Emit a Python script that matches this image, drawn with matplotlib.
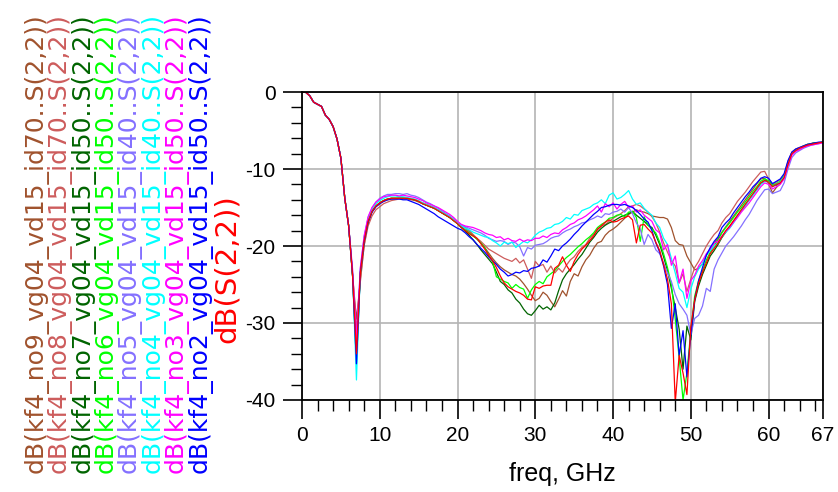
import matplotlib
matplotlib.use('Agg')

import matplotlib.pyplot as plt
import numpy as np
from matplotlib.ticker import MultipleLocator

plt.rcParams['font.family'] = ['Liberation Sans', 'DejaVu Sans']
plt.rcParams['axes.unicode_minus'] = False

# frequency grid, GHz
freq = np.arange(0, 67.01, 0.5)

# 0 .. 6 GHz: all traces lie on top of each other
lo = [0.0, -0.05, -0.5, -1.33, -1.6, -1.87, -3.0, -3.56, -4.5, -6.1, -8.6, -13.8, -17.4]

# 6.5 .. 67 GHz, one list per trace
no9 = [-23.9, -29.5, -24.6, -19.8, -17.0, -15.6, -14.9, -14.5, -14.2, -14.0,
       -13.9, -13.9, -13.8, -13.8, -13.8, -13.9, -14.0, -14.2, -14.4, -14.6,
       -14.8, -15.0, -15.3, -15.6, -15.9, -16.2, -16.6, -17.0, -17.5, -17.7,
       -18.1, -18.6, -19.1, -19.6, -20.2, -20.9, -21.6, -22.2, -22.7, -23.1,
       -23.4, -23.7, -23.9, -24.3, -24.9, -25.6, -26.4, -27.1, -26.8, -26.0,
       -26.4, -27.2, -27.9, -26.9, -25.8, -26.5, -24.6, -23.6, -23.9, -22.7,
       -21.8, -21.2, -20.3, -19.6, -19.4, -18.6, -18.1, -17.8, -17.4, -16.9,
       -16.4, -15.9, -15.6, -15.3, -15.5, -15.6, -15.8, -16.1, -16.2, -16.3,
       -16.3, -16.5, -17.6, -19.3, -19.8, -19.9, -21.3, -22.2, -23.1, -22.9,
       -22.3, -21.2, -20.4, -19.6, -19.0, -18.2, -17.5, -16.8, -16.1, -15.4,
       -14.7, -14.0, -13.3, -12.6, -11.9, -11.3, -11.2, -11.9, -13.1, -12.4,
       -11.9, -11.0, -9.3, -7.9, -7.5, -7.3, -7.1, -6.9, -6.8, -6.7,
       -6.6, -6.5]

no8 = [-23.6, -31.0, -24.2, -19.9, -17.4, -16.1, -15.3, -14.9, -14.5, -14.3,
       -14.1, -14.0, -13.9, -13.9, -13.9, -14.0, -14.1, -14.3, -14.5, -14.7,
       -14.9, -15.1, -15.4, -15.7, -16.0, -16.3, -16.7, -17.0, -17.3, -17.6,
       -18.0, -18.5, -19.0, -19.4, -19.9, -20.4, -20.7, -21.0, -21.3, -21.6,
       -21.8, -22.0, -21.6, -22.2, -21.8, -23.0, -24.2, -22.0, -22.6, -22.4,
       -23.4, -22.6, -23.5, -22.9, -23.4, -22.5, -21.8, -21.4, -20.7, -20.2,
       -19.8, -19.0, -18.5, -17.9, -17.4, -17.2, -16.8, -16.4, -16.1, -15.8,
       -15.4, -14.9, -14.8, -14.6, -14.8, -15.2, -15.6, -16.2, -17.0, -18.2,
       -19.6, -20.8, -21.9, -22.6, -24.8, -23.6, -25.9, -24.3, -22.8, -22.0,
       -21.0, -20.0, -19.2, -18.5, -18.0, -17.0, -16.3, -15.8, -15.0, -14.2,
       -13.6, -13.0, -12.3, -11.6, -11.0, -10.4, -10.3, -11.3, -12.0, -11.7,
       -11.4, -10.8, -9.0, -7.8, -7.4, -7.2, -7.0, -6.8, -6.7, -6.6,
       -6.6, -6.5]

no7 = [-23.8, -35.3, -23.4, -19.3, -16.8, -15.5, -14.8, -14.4, -14.1, -13.9,
       -13.8, -13.8, -13.8, -13.8, -13.8, -13.9, -14.0, -14.2, -14.5, -14.7,
       -14.9, -15.1, -15.4, -15.7, -16.0, -16.3, -16.7, -17.1, -17.6, -18.1,
       -18.6, -19.2, -19.8, -20.5, -21.1, -21.7, -22.3, -23.4, -24.6, -25.0,
       -25.7, -26.1, -26.9, -27.4, -28.2, -28.8, -29.0, -28.4, -27.7, -28.2,
       -27.9, -28.3, -27.4, -25.8, -24.4, -23.6, -23.0, -22.4, -21.7, -21.1,
       -20.3, -19.5, -18.9, -18.2, -17.7, -17.3, -17.0, -16.8, -16.5, -16.2,
       -16.0, -15.8, -15.5, -16.0, -16.4, -16.8, -17.3, -17.6, -18.6, -19.8,
       -21.4, -23.2, -25.5, -28.0, -30.8, -36.0, -30.4, -32.2, -27.2, -25.2,
       -23.7, -22.5, -21.3, -20.6, -19.8, -18.9, -18.2, -17.5, -16.8, -16.1,
       -15.4, -14.7, -14.0, -13.3, -12.6, -11.9, -11.5, -11.6, -12.2, -12.1,
       -11.7, -11.0, -9.3, -7.9, -7.5, -7.3, -7.1, -6.9, -6.7, -6.6,
       -6.6, -6.5]

no6 = [-23.8, -34.5, -23.5, -19.3, -16.8, -15.5, -14.8, -14.4, -14.1, -13.9,
       -13.8, -13.8, -13.8, -13.8, -13.8, -13.9, -14.0, -14.2, -14.5, -14.7,
       -14.9, -15.1, -15.4, -15.7, -16.0, -16.3, -16.7, -17.1, -17.6, -17.9,
       -18.3, -18.7, -19.1, -19.6, -20.2, -21.2, -22.0, -24.0, -24.3, -24.6,
       -24.8, -25.5, -25.0, -25.4, -25.6, -26.8, -25.7, -25.0, -24.6, -24.9,
       -24.0, -23.6, -23.2, -22.6, -22.0, -21.5, -21.1, -20.6, -20.1, -19.7,
       -19.2, -18.8, -18.3, -17.6, -17.2, -16.9, -16.4, -16.3, -16.0, -15.9,
       -16.2, -15.6, -15.5, -16.3, -19.4, -16.2, -17.3, -17.8, -18.3, -19.5,
       -21.0, -22.8, -25.0, -29.5, -34.5, -40.0, -36.5, -31.0, -26.5, -24.5,
       -23.2, -21.8, -20.8, -20.0, -19.2, -18.3, -17.6, -17.0, -16.3, -15.6,
       -15.0, -14.3, -13.6, -12.9, -12.3, -11.6, -11.3, -11.5, -12.1, -11.9,
       -11.6, -10.9, -9.2, -7.9, -7.5, -7.3, -7.0, -6.8, -6.7, -6.6,
       -6.6, -6.5]

no5 = [-23.6, -33.5, -23.0, -18.8, -16.3, -15.1, -14.3, -13.8, -13.5, -13.3,
       -13.3, -13.2, -13.2, -13.3, -13.2, -13.4, -13.5, -13.7, -14.0, -14.3,
       -14.5, -14.8, -15.1, -15.4, -15.8, -16.1, -16.5, -16.9, -17.3, -17.5,
       -17.7, -17.9, -18.1, -18.3, -18.6, -19.0, -19.2, -19.4, -19.3, -19.4,
       -19.8, -19.5, -19.6, -20.1, -21.3, -20.2, -20.4, -19.9, -19.8, -19.7,
       -19.4, -19.0, -18.8, -18.7, -18.3, -18.0, -17.8, -17.5, -17.3, -17.0,
       -16.9, -16.6, -16.4, -16.1, -16.3, -15.8, -15.9, -15.6, -15.5, -15.2,
       -15.6, -15.0, -15.8, -17.0, -17.8, -19.8, -18.5, -19.2, -20.5, -21.0,
       -22.2, -23.5, -24.6, -26.3, -27.5, -28.2, -29.0, -31.5, -29.4, -29.0,
       -27.8, -25.5, -25.9, -23.0, -21.8, -20.9, -20.0, -19.4, -18.8, -18.1,
       -17.4, -16.6, -15.9, -15.0, -14.1, -13.4, -12.7, -12.6, -13.2, -13.0,
       -12.8, -11.8, -10.0, -8.5, -7.9, -7.6, -7.3, -7.1, -6.9, -6.8,
       -6.7, -6.6]

no4 = [-23.4, -37.4, -23.2, -18.9, -16.4, -15.2, -14.5, -14.1, -13.8, -13.6,
       -13.5, -13.5, -13.6, -13.6, -13.7, -13.8, -13.9, -14.1, -14.4, -14.6,
       -14.8, -15.0, -15.3, -15.6, -15.9, -16.2, -16.6, -17.0, -17.4, -17.7,
       -17.9, -18.2, -18.4, -18.6, -18.8, -18.9, -19.3, -19.6, -20.0, -19.5,
       -19.7, -19.5, -20.2, -19.8, -19.4, -19.6, -19.2, -18.6, -18.2, -18.0,
       -17.7, -17.6, -17.2, -17.1, -16.8, -16.3, -16.5, -15.9, -16.0, -15.4,
       -15.2, -15.0, -14.6, -14.4, -14.0, -14.5, -13.4, -13.1, -13.9, -13.7,
       -13.3, -12.8, -13.9, -14.6, -14.4, -15.1, -15.6, -16.0, -17.0, -17.6,
       -19.0, -19.8, -21.6, -23.5, -25.5, -26.0, -28.0, -25.6, -24.0, -23.0,
       -22.3, -21.2, -20.6, -20.0, -19.6, -18.8, -18.2, -17.7, -17.0, -16.2,
       -15.4, -14.8, -14.0, -13.4, -12.7, -12.0, -11.6, -11.7, -12.3, -12.0,
       -11.7, -11.0, -9.3, -8.0, -7.6, -7.4, -7.1, -6.9, -6.8, -6.7,
       -6.6, -6.5]

no3 = [-23.0, -32.0, -22.8, -18.6, -16.2, -15.0, -14.3, -13.9, -13.6, -13.5,
       -13.4, -13.4, -13.5, -13.4, -13.5, -13.6, -13.7, -13.9, -14.1, -14.4,
       -14.6, -14.8, -15.0, -15.3, -15.6, -15.9, -16.3, -16.8, -17.2, -17.4,
       -17.5, -17.6, -17.8, -18.0, -18.3, -18.5, -18.6, -18.9, -18.8, -19.2,
       -19.0, -19.3, -19.4, -19.1, -19.4, -19.2, -19.3, -19.0, -19.0, -18.7,
       -18.9, -18.5, -18.3, -18.4, -17.9, -17.6, -17.2, -17.0, -16.6, -16.4,
       -16.1, -15.7, -15.3, -14.8, -15.6, -14.5, -14.9, -14.4, -15.2, -14.6,
       -14.2, -15.0, -14.8, -15.6, -15.3, -16.0, -16.4, -16.8, -17.9, -18.3,
       -20.5, -19.8, -22.5, -21.3, -24.8, -23.0, -26.8, -24.5, -23.8, -22.6,
       -21.9, -21.0, -20.4, -19.6, -19.4, -18.7, -18.1, -17.6, -16.9, -16.3,
       -15.6, -15.0, -14.4, -13.7, -13.0, -12.3, -11.8, -12.0, -12.6, -12.3,
       -12.0, -11.3, -9.6, -8.2, -7.7, -7.5, -7.2, -7.0, -6.9, -6.8,
       -6.7, -6.6]

no2 = [-23.8, -35.3, -23.5, -19.4, -16.9, -15.6, -14.9, -14.5, -14.2, -14.0,
       -13.9, -13.9, -13.9, -14.0, -14.0, -14.2, -14.4, -14.6, -14.9, -15.2,
       -15.5, -15.8, -16.2, -16.5, -16.8, -17.1, -17.4, -17.7, -17.9, -18.3,
       -18.8, -19.2, -19.8, -20.3, -20.8, -21.4, -21.9, -22.4, -23.0, -23.4,
       -23.9, -23.7, -23.4, -23.5, -23.2, -23.3, -22.9, -22.8, -22.6, -21.8,
       -22.1, -21.3, -20.4, -20.6, -20.0, -19.6, -19.1, -18.5, -18.0, -17.4,
       -16.9, -16.4, -15.9, -15.5, -15.0, -14.9, -14.7, -14.6, -14.6, -14.7,
       -14.6, -14.8, -15.0, -15.4, -15.9, -16.5, -16.9, -18.0, -19.6, -20.8,
       -22.6, -25.0, -30.7, -27.5, -34.2, -31.0, -37.0, -31.5, -27.0, -24.5,
       -22.8, -21.2, -20.2, -19.4, -18.8, -17.6, -17.0, -16.5, -15.7, -15.0,
       -14.3, -13.6, -13.0, -12.3, -11.8, -11.2, -11.0, -11.2, -11.9, -11.6,
       -11.3, -10.6, -8.9, -7.8, -7.4, -7.2, -7.0, -6.8, -6.7, -6.6,
       -6.5, -6.5]

s22 = [-23.8, -34.0, -23.5, -19.3, -16.8, -15.5, -14.8, -14.4, -14.1, -13.9,
       -13.8, -13.8, -13.8, -13.8, -13.8, -13.9, -14.0, -14.2, -14.5, -14.7,
       -14.9, -15.1, -15.4, -15.7, -16.0, -16.3, -16.7, -17.1, -17.6, -18.0,
       -18.4, -18.7, -19.0, -19.7, -20.4, -21.2, -21.9, -22.8, -23.9, -24.8,
       -25.3, -25.6, -25.9, -26.1, -26.4, -26.9, -27.0, -25.3, -25.5, -25.2,
       -25.1, -25.1, -22.9, -22.5, -21.4, -22.5, -23.3, -22.0, -21.1, -20.4,
       -19.9, -19.3, -18.7, -17.8, -17.4, -16.9, -16.6, -16.9, -16.8, -16.5,
       -16.3, -16.1, -16.6, -19.6, -17.3, -17.2, -17.8, -18.3, -19.5, -20.6,
       -22.4, -24.3, -27.5, -40.3, -34.2, -36.5, -39.3, -30.5, -27.0, -24.8,
       -23.4, -22.2, -21.0, -20.3, -19.6, -18.8, -18.0, -17.4, -16.7, -16.0,
       -15.3, -14.6, -13.9, -13.2, -12.5, -11.8, -11.5, -11.7, -12.3, -12.0,
       -11.8, -11.1, -9.4, -8.0, -7.6, -7.3, -7.1, -6.9, -6.8, -6.7,
       -6.6, -6.5]

names = ['dB(kf4_no9_vg04_vd15_id70..S(2,2))',
         'dB(kf4_no8_vg04_vd15_id70..S(2,2))',
         'dB(kf4_no7_vg04_vd15_id50..S(2,2))',
         'dB(kf4_no6_vg04_vd15_id50..S(2,2))',
         'dB(kf4_no5_vg04_vd15_id40..S(2,2))',
         'dB(kf4_no4_vg04_vd15_id40..S(2,2))',
         'dB(kf4_no3_vg04_vd15_id50..S(2,2))',
         'dB(kf4_no2_vg04_vd15_id50..S(2,2))']
traces = [no9, no8, no7, no6, no5, no4, no3, no2]
colors = ['#a0522d', '#cd5c5c', '#006400', '#00ff00',
          '#8470ff', '#00ffff', '#ff00ff', '#0000ff']

fig = plt.figure(figsize=(8.38, 4.92), dpi=100)
ax = fig.add_axes([0.3604, 0.187, 0.6217, 0.626])

for vals, c in zip(traces, colors):
    ax.plot(freq, np.array(lo + vals), color=c, lw=0.9)
ax.plot(freq, np.array(lo + s22), color='#ff0000', lw=0.9)

ax.set_xlim(0, 67)
ax.set_ylim(-40, 0)
ax.set_xticks([0, 10, 20, 30, 40, 50, 60, 67])
ax.set_yticks([0, -10, -20, -30, -40])
ax.xaxis.set_minor_locator(MultipleLocator(2))
ax.yaxis.set_minor_locator(MultipleLocator(2))
ax.tick_params(which='major', direction='out', length=14, width=1.2, labelsize=15, pad=5)
ax.tick_params(which='minor', direction='out', length=8, width=1.0)
ax.grid(True, which='major', color='#b4b4b4', lw=1.2)
ax.set_axisbelow(True)
for sp in ax.spines.values():
    sp.set_linewidth(1.3)
ax.set_xlabel('freq, GHz', fontsize=18, labelpad=12)

# rotated trace names on the left
for i, (s, c) in enumerate(zip(names, colors)):
    fig.text((36 + 23.4 * i) / 838, 19 / 492, s, rotation=90, ha='center', va='bottom',
             color=c, fontsize=18, family='DejaVu Sans')
fig.text(226.5 / 838, 149 / 492, 'dB(S(2,2))', rotation=90, ha='center', va='bottom',
         color='#ff0000', fontsize=21, family='DejaVu Sans')

fig.savefig('out.png', dpi=100)
